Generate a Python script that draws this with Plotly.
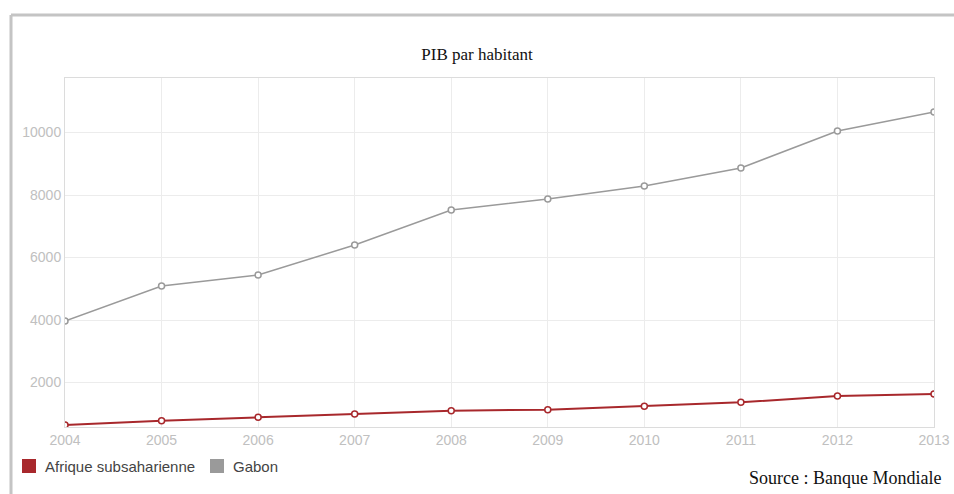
import plotly.graph_objects as go

years = [2004, 2005, 2006, 2007, 2008, 2009, 2010, 2011, 2012, 2013]
afrique = [640, 778, 886, 992, 1098, 1130, 1238, 1366, 1571, 1635]
gabon = [3970, 5088, 5440, 6400, 7520, 7872, 8288, 8864, 10048, 10656]
ytick_vals = [2000, 4000, 6000, 8000, 10000]
ytick_text = ["2000", "4000", "6000", "8000", "10000"]
series_names = ["Afrique subsaharienne", "Gabon"]

RED = "#a8282c"
GRAY = "#9a9a9a"

fig = go.Figure()
fig.add_trace(go.Scatter(x=years, y=gabon, mode="lines+markers", name=series_names[1],
                         showlegend=False,
                         line=dict(color=GRAY, width=1.5),
                         marker=dict(symbol="circle", size=6, color="white",
                                     line=dict(color=GRAY, width=1.5))))
fig.add_trace(go.Scatter(x=years, y=afrique, mode="lines+markers", name=series_names[0],
                         showlegend=False,
                         line=dict(color=RED, width=2),
                         marker=dict(symbol="circle", size=6, color="white",
                                     line=dict(color=RED, width=1.5))))

L, R, T, B = 65, 20, 78, 67
W, H = 954, 494
pw = W - L - R
ph = H - T - B

def px(x):
    return (x - L) / pw

def py(y):
    return (H - B - y) / ph

tickfont = dict(family="Arial, Liberation Sans", size=14, color="#c0c0c0")

fig.update_layout(
    width=W, height=H,
    margin=dict(l=L, r=R, t=T, b=B, autoexpand=False),
    paper_bgcolor="white", plot_bgcolor="white",
    showlegend=False,
    title=dict(text="PIB par habitant", x=0.5, xanchor="center", y=1 - 54 / H, yanchor="middle",
               font=dict(family="Liberation Serif", size=17, color="#111")),
    xaxis=dict(range=[2004, 2013], tickvals=years, ticktext=[str(y) for y in years],
               showgrid=True, gridcolor="#ececec", gridwidth=1, automargin=False,
               showline=True, linecolor="#dcdcdc", mirror=True, zeroline=False,
               tickfont=tickfont, ticks="", ticklen=0),
    yaxis=dict(range=[576, 11744], tickvals=ytick_vals, ticktext=ytick_text,
               showgrid=True, gridcolor="#ececec", gridwidth=1, automargin=False,
               showline=True, linecolor="#dcdcdc", mirror=True, zeroline=False,
               tickfont=tickfont, ticks="", ticklen=0),
)

# legend swatches and labels
legend_items = [(series_names[0], RED, 22), (series_names[1], GRAY, 210)]
for name, col, x0 in legend_items:
    fig.add_shape(type="rect", xref="paper", yref="paper",
                  x0=px(x0), x1=px(x0 + 14), y0=py(459), y1=py(473),
                  line=dict(width=0), fillcolor=col)
    fig.add_annotation(text=name, xref="paper", yref="paper",
                       x=px(x0 + 21), y=py(466), xanchor="left", yanchor="middle",
                       showarrow=False,
                       font=dict(family="Arial, Liberation Sans", size=15, color="#444"))

# outer frame (top and left borders)
fig.add_shape(type="line", xref="paper", yref="paper",
              x0=px(11), x1=px(W + 5), y0=py(15), y1=py(15),
              line=dict(color="#c4c4c4", width=3))
fig.add_shape(type="line", xref="paper", yref="paper",
              x0=px(11), x1=px(11), y0=py(15), y1=py(H + 5),
              line=dict(color="#c4c4c4", width=3))

fig.add_annotation(text="Source : Banque Mondiale", xref="paper", yref="paper",
                   x=px(943), y=py(478), xanchor="right", yanchor="middle", showarrow=False,
                   font=dict(family="Liberation Serif", size=18, color="#111"))

fig.write_html("out.html")
